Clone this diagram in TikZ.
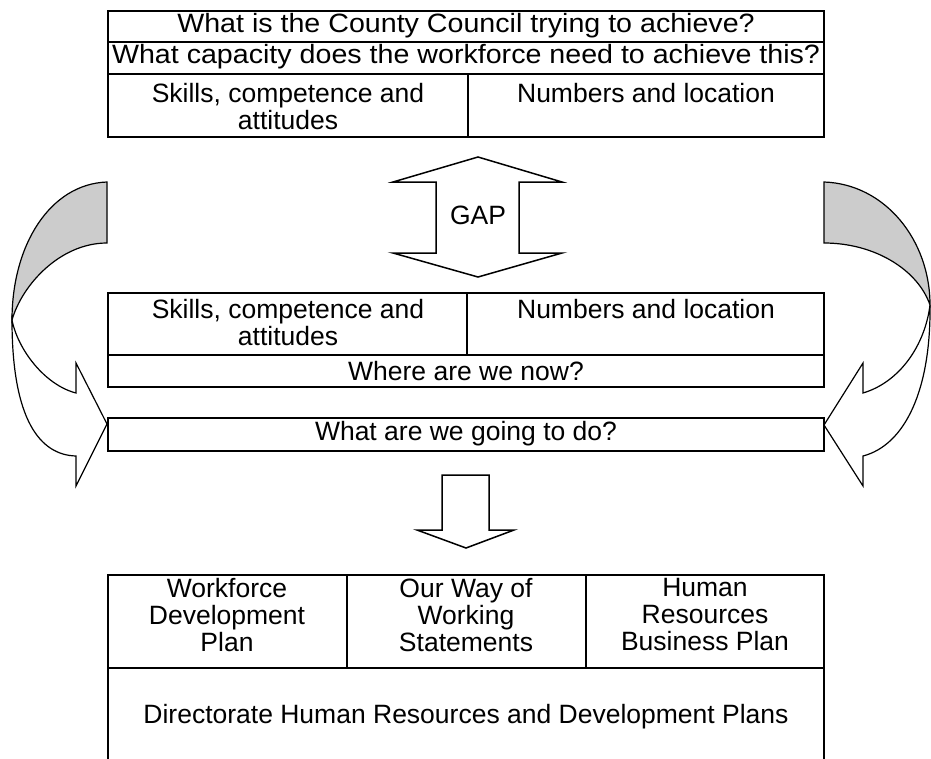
\documentclass[tikz,border=0pt]{standalone}
\usepackage{fontspec}
\setmainfont{Liberation Sans}
\newfontfamily\widefont[FakeStretch=1.08]{Liberation Sans}
\begin{document}
\begin{tikzpicture}[x=1pt,y=-1pt,line width=1.5pt,line join=miter,
  txt/.style={font=\fontsize{26.5}{26.7}\selectfont,inner sep=0pt,align=center},
  widetxt/.style={font=\widefont\fontsize{26.5}{26.7}\selectfont,inner sep=0pt,align=center},
  backpart/.style={fill=black!20,draw=black,line width=1.2pt},
  frontpart/.style={fill=white,draw=black,line width=1.2pt}]
\useasboundingbox (0,0) rectangle (931,758);

% left curved arrow
\path[backpart] (107,182) .. controls (50,184) and (12,245) .. (12,320)
  .. controls (22,285) and (60,243) .. (107,243) -- cycle;
\path[frontpart] (12,320) .. controls (12,420) and (40,455) .. (76,456)
  -- (76,486) -- (107,424) -- (76,363) -- (76,393)
  .. controls (45,385) and (18,350) .. (12,320) -- cycle;

% right curved arrow
\path[backpart] (824,182) .. controls (885,184) and (930,240) .. (930,305)
  .. controls (918,270) and (875,243) .. (824,243) -- cycle;
\path[frontpart] (930,305) .. controls (931,390) and (905,445) .. (863,456)
  -- (863,486) -- (824,425) -- (863,363) -- (863,393)
  .. controls (900,382) and (925,345) .. (930,305) -- cycle;

% top table
\draw (108,11) rectangle (824,137);
\draw (108,42) -- (824,42);
\draw (108,74) -- (824,74);
\draw (468,74) -- (468,137);
\node[widetxt] (q1) at (466,26) {What is the County Council trying to achieve?};
\node[widetxt] (q2) at (466,57) {What capacity does the workforce need to achieve this?};
\node[txt,anchor=north] (s1) at (288,83) {Skills, competence and\\attitudes};
\node[txt,anchor=north] (n1) at (646,83) {Numbers and location};

% GAP double arrow
\draw (478,157) -- (562,182) -- (519,182) -- (519,253) -- (562,253) -- (478,277)
  -- (393,253) -- (436,253) -- (436,182) -- (393,182) -- cycle;
\node[txt] (gap) at (478,215) {GAP};

% middle table
\draw (108,293) rectangle (824,387);
\draw (108,355) -- (824,355);
\draw (467,293) -- (467,355);
\node[txt,anchor=north] (s2) at (288,299) {Skills, competence and\\attitudes};
\node[txt,anchor=north] (n2) at (646,299) {Numbers and location};
\node[txt] (now) at (466,371) {Where are we now?};

% do box
\draw (108,418) rectangle (824,451);
\node[txt] (do) at (466,434) {What are we going to do?};

% down arrow
\draw (442,475) -- (489,475) -- (489,530) -- (514,530) -- (466,548)
  -- (417,530) -- (442,530) -- cycle;

% bottom table
\draw (108,762) -- (108,575) -- (824,575) -- (824,762);
\draw (108,668) -- (824,668);
\draw (347,575) -- (347,668);
\draw (586,575) -- (586,668);
\node[txt,anchor=north] (wd) at (227,578) {Workforce\\Development\\Plan};
\node[txt,anchor=north] (ow) at (466,578) {Our Way of\\Working\\Statements};
\node[txt,anchor=north] (hr) at (705,578) {Human\\Resources\\Business Plan};
\node[txt] (dir) at (466,717) {Directorate Human Resources and Development Plans};
\end{tikzpicture}
\end{document}
